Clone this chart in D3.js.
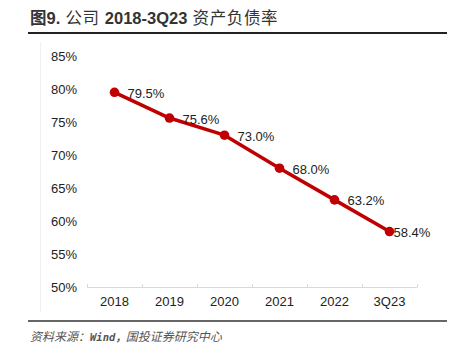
<!DOCTYPE html>
<html>
<head>
<meta charset="utf-8">
<script src="https://cdn.jsdelivr.net/npm/d3@7"></script>
<style>
  html, body { margin: 0; padding: 0; background: #fff; }
  svg { display: block; }
</style>
</head>
<body>
<script>
const categories = ["2018", "2019", "2020", "2021", "2022", "3Q23"];
const debtRatio = [79.5, 75.6, 73.0, 68.0, 63.2, 58.4];
const yTicks = [50, 55, 60, 65, 70, 75, 80, 85];
const titleParts = [["图9.", true], [" 公司 ", false], ["2018-3Q23", true], [" 资产负债率", false]];
const sourceParts = [["资料来源：", false], ["Wind，", true], ["国投证券研究中心", false]];

const W = 463, H = 348;
const svg = d3.select("body").append("svg").attr("width", W).attr("height", H);
const sans = "'Liberation Sans', Arial, 'Noto Sans CJK SC', sans-serif";

// Title
const title = svg.append("text").attr("x", 30).attr("y", 24)
  .attr("font-family", sans).attr("font-size", 16.5).attr("fill", "#333");
title.selectAll("tspan").data(titleParts).enter().append("tspan")
  .attr("font-weight", d => d[1] ? "bold" : "normal")
  .attr("letter-spacing", d => d[1] ? 0 : 0.6)
  .text(d => d[0]);
svg.append("line").attr("x1", 28).attr("x2", 447).attr("y1", 33).attr("y2", 33)
  .attr("stroke", "#222").attr("stroke-width", 2);

// chart area faint border
svg.append("line").attr("x1", 40.5).attr("x2", 40.5).attr("y1", 42).attr("y2", 312)
  .attr("stroke", "#f0f0f0").attr("stroke-width", 1);

const x = d3.scaleBand().domain(categories).range([87, 417]).padding(0);
const y = d3.scaleLinear().domain([50, 85]).range([287, 56]);

// Y axis labels
const yAxis = d3.axisLeft(y).tickValues(yTicks).tickFormat(d => d + "%").tickSize(0).tickPadding(0);
const gy = svg.append("g").attr("transform", "translate(77,0)").call(yAxis);
gy.select(".domain").remove();
gy.selectAll("text").attr("font-family", sans).attr("font-size", 13).attr("fill", "#222");

// X axis
const gx = svg.append("g").attr("transform", "translate(0,287)");
gx.append("line").attr("x1", x.range()[0]).attr("x2", x.range()[1])
  .attr("y1", 0.5).attr("y2", 0.5).attr("stroke", "#d9d9d9").attr("stroke-width", 1);
const bounds = categories.map(c => x(c)).concat([x.range()[1]]);
gx.selectAll("line.tk").data(bounds).enter().append("line").attr("class", "tk")
  .attr("x1", d => Math.round(d) + 0.5).attr("x2", d => Math.round(d) + 0.5)
  .attr("y1", -3).attr("y2", 0.5).attr("stroke", "#d9d9d9");
gx.selectAll("text").data(categories).enter().append("text")
  .attr("x", d => x(d) + x.bandwidth() / 2).attr("y", 19)
  .attr("text-anchor", "middle").attr("font-family", sans).attr("font-size", 13).attr("fill", "#222")
  .text(d => d);

// Line
const pts = categories.map((c, i) => ({ c, v: debtRatio[i] }));
const line = d3.line().x(d => x(d.c) + x.bandwidth() / 2).y(d => y(d.v));
svg.append("path").datum(pts).attr("d", line)
  .attr("fill", "none").attr("stroke", "#c00000").attr("stroke-width", 3.5).attr("stroke-linejoin", "round");
svg.selectAll("circle.pt").data(pts).enter().append("circle").attr("class", "pt")
  .attr("cx", d => x(d.c) + x.bandwidth() / 2).attr("cy", d => y(d.v)).attr("r", 4.8)
  .attr("fill", "#c00000");

// Labels
svg.selectAll("text.lbl").data(pts).enter().append("text").attr("class", "lbl")
  .attr("x", (d, i) => x(d.c) + x.bandwidth() / 2 + (i === pts.length - 1 ? 4 : 13))
  .attr("y", d => y(d.v) + 5.5)
  .attr("font-family", sans).attr("font-size", 13).attr("fill", "#222")
  .text(d => d.v.toFixed(1) + "%");

// Source
svg.append("line").attr("x1", 28).attr("x2", 447).attr("y1", 321).attr("y2", 321)
  .attr("stroke", "#666").attr("stroke-width", 2);
const src = svg.append("text").attr("x", 30).attr("y", 341)
  .attr("font-style", "italic").attr("font-size", 12).attr("fill", "#555");
src.selectAll("tspan").data(sourceParts).enter().append("tspan")
  .attr("font-family", d => d[1] ? "'DejaVu Sans Mono', 'Noto Sans CJK SC', monospace" : "'Noto Sans CJK SC', sans-serif")
  .attr("font-weight", d => d[1] ? "bold" : "normal")
  .attr("font-size", d => d[1] ? 10.5 : 12)
  .text(d => d[0]);
</script>
</body>
</html>
